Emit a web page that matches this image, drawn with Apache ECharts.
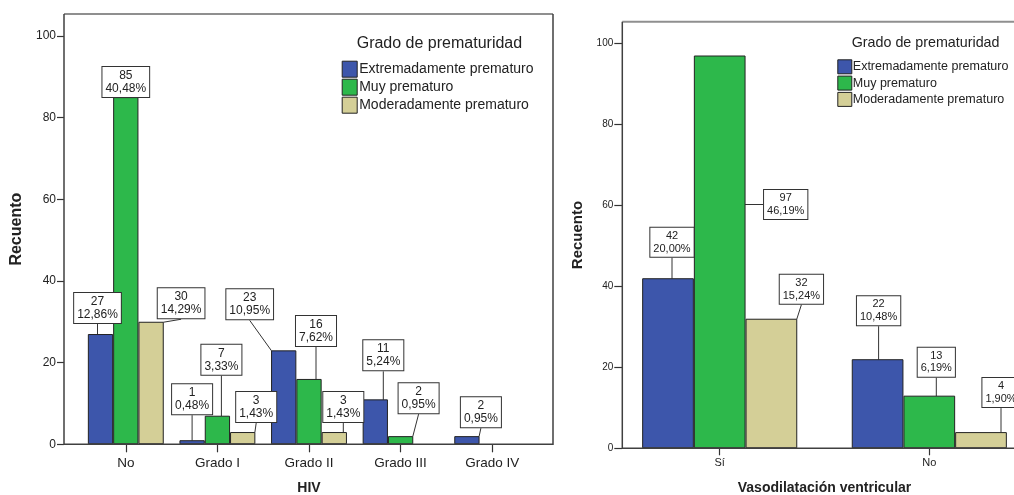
<!DOCTYPE html>
<html>
<head>
<meta charset="utf-8">
<script src="https://cdn.jsdelivr.net/npm/echarts@6/dist/echarts.min.js"></script>
<style>
html,body{margin:0;padding:0;background:#fff;}
#chart{width:1014px;height:495px;}
</style>
</head>
<body>
<div id="chart"></div>
<script>
// ---------- data ----------
const seriesNames = ['Extremadamente prematuro', 'Muy prematuro', 'Moderadamente prematuro'];

const hivCategories = ['No', 'Grado I', 'Grado II', 'Grado III', 'Grado IV'];
const hivExtremo   = [27, 1, 23, 11, 2];
const hivMuy       = [85, 7, 16, 2, null];
const hivModerado  = [30, 3, 3, null, null];
const hivExtremoPct  = ['12,86%', '0,48%', '10,95%', '5,24%', '0,95%'];
const hivMuyPct      = ['40,48%', '3,33%', '7,62%', '0,95%', null];
const hivModeradoPct = ['14,29%', '1,43%', '1,43%', null, null];

const vasoCategories = ['Sí', 'No'];
const vasoExtremo  = [42, 22];
const vasoMuy      = [97, 13];
const vasoModerado = [32, 4];
const vasoExtremoPct  = ['20,00%', '10,48%'];
const vasoMuyPct      = ['46,19%', '6,19%'];
const vasoModeradoPct = ['15,24%', '1,90%'];

const yTicks = [0, 20, 40, 60, 80, 100];

// ---------- styling / layout ----------
const FONT = 'Liberation Sans, Arial, sans-serif';
const colors = ['#3d56ab', '#2db84b', '#d4cf97'];
const TXT = '#222';
const YMAX = 105.35;

// label box nudges: [dx from bar centre, gap between bar top and box bottom]
const labelNudge = [
  [[-3, 11], [0, 26], [-34, 31], [8, 29], [14, 9]],
  [[0, 0], [4, 41], [7, 33], [18, 23], [0, 0]],
  [[30, 3.5], [13.5, 10], [9, 10], [0, 0], [0, 0]],
  [[4, 21.5], [1, 34]],
  [[66, -163.5], [7, 19]],
  [[30, 15], [20, 25]]
];

function makeSeries(idx, axisIdx, data, pct, barW, fs, lh) {
  return {
    type: 'bar',
    name: seriesNames[idx % 3],
    xAxisIndex: axisIdx,
    yAxisIndex: axisIdx,
    data: data,
    barWidth: barW,
    barGap: '0%',
    itemStyle: { color: colors[idx % 3], borderColor: '#222', borderWidth: 1 },
    label: {
      show: true,
      position: 'top',
      distance: 0,
      formatter: p => p.value + '\n' + pct[p.dataIndex],
      fontFamily: FONT,
      fontSize: fs,
      lineHeight: lh,
      color: TXT,
      align: 'center',
      backgroundColor: '#fff',
      borderColor: '#333',
      borderWidth: 1,
      padding: [2, 3, 2, 3]
    },
    labelLine: { show: true, lineStyle: { color: '#333', width: 1 } },
    labelLayout: p => {
      const n = labelNudge[idx][p.dataIndex] || [0, 0];
      return { dx: n[0], dy: -n[1] };
    },
    emphasis: { disabled: true }
  };
}

const chart = echarts.init(document.getElementById('chart'), null, { renderer: 'canvas' });

const option = {
  animation: false,
  backgroundColor: '#fff',
  textStyle: { fontFamily: FONT },
  title: [
    { text: 'Grado de prematuridad', left: 356.7, top: 36, padding: 0,
      textStyle: { fontFamily: FONT, fontSize: 16, fontWeight: 'normal', color: TXT } },
    { text: 'Grado de prematuridad', left: 851.7, top: 36, padding: 0,
      textStyle: { fontFamily: FONT, fontSize: 14.3, fontWeight: 'normal', color: TXT } }
  ],
  legend: [
    { orient: 'vertical', left: 341.7, top: 60.7, padding: 0, itemWidth: 15, itemHeight: 16, itemGap: 1,
      icon: 'rect', selectedMode: false, data: seriesNames,
      itemStyle: { borderColor: '#222', borderWidth: 1 },
      textStyle: { fontFamily: FONT, fontSize: 14, color: TXT, padding: [0, 0, 0, -3] } },
    { orient: 'vertical', left: 837.3, top: 59.3, padding: 0, itemWidth: 14, itemHeight: 14, itemGap: 1.3,
      icon: 'rect', selectedMode: false, data: seriesNames,
      itemStyle: { borderColor: '#222', borderWidth: 1 },
      textStyle: { fontFamily: FONT, fontSize: 12.5, color: TXT, padding: [0, 0, 0, -4] } }
  ],
  grid: [
    { left: 80, right: 476, top: 14, bottom: 50.7, outerBoundsMode: 'none', containLabel: false },
    { left: 614.9, right: -20.1, top: 21.7, bottom: 46.7, outerBoundsMode: 'none', containLabel: false }
  ],
  xAxis: [
    { type: 'category', gridIndex: 0, data: hivCategories,
      axisLine: { show: false },
      axisTick: { show: true, alignWithLabel: true, length: 8, lineStyle: { color: '#333', width: 1.2 } },
      axisLabel: { fontFamily: FONT, fontSize: 13.5, color: TXT, margin: 12 },
      name: 'HIV', nameLocation: 'middle', nameGap: 37,
      nameTextStyle: { fontFamily: FONT, fontSize: 14, fontWeight: 'bold', color: TXT } },
    { type: 'category', gridIndex: 1, data: vasoCategories,
      axisLine: { show: false },
      axisTick: { show: true, alignWithLabel: true, length: 7, lineStyle: { color: '#333', width: 1.2 } },
      axisLabel: { fontFamily: FONT, fontSize: 11, color: TXT, margin: 9 },
      name: 'Vasodilatación ventricular', nameLocation: 'middle', nameGap: 33,
      nameTextStyle: { fontFamily: FONT, fontSize: 14, fontWeight: 'bold', color: TXT } }
  ],
  yAxis: [
    { type: 'value', gridIndex: 0, min: 0, max: YMAX, interval: 20, offset: 16,
      axisLine: { show: false },
      axisTick: { show: true, length: 7, customValues: yTicks, lineStyle: { color: '#333', width: 1.2 } },
      axisLabel: { fontFamily: FONT, fontSize: 12, color: TXT, margin: 8, customValues: yTicks },
      splitLine: { show: false },
      name: 'Recuento', nameLocation: 'middle', nameRotate: 90, nameGap: 39,
      nameTextStyle: { fontFamily: FONT, fontSize: 16, fontWeight: 'bold', color: TXT } },
    { type: 'value', gridIndex: 1, min: 0, max: YMAX, interval: 20, offset: -7.4,
      axisLine: { show: false },
      axisTick: { show: true, length: 8, customValues: yTicks, lineStyle: { color: '#333', width: 1.2 } },
      axisLabel: { fontFamily: FONT, fontSize: 10, color: TXT, margin: 9, customValues: yTicks },
      splitLine: { show: false },
      name: 'Recuento', nameLocation: 'middle', nameRotate: 90, nameGap: 37,
      nameTextStyle: { fontFamily: FONT, fontSize: 15, fontWeight: 'bold', color: TXT } }
  ],
  series: [
    makeSeries(0, 0, hivExtremo, hivExtremoPct, 25.3, 12, 13),
    makeSeries(1, 0, hivMuy, hivMuyPct, 25.3, 12, 13),
    makeSeries(2, 0, hivModerado, hivModeradoPct, 25.3, 12, 13),
    makeSeries(3, 1, vasoExtremo, vasoExtremoPct, 51.7, 11, 12.5),
    makeSeries(4, 1, vasoMuy, vasoMuyPct, 51.7, 11, 12.5),
    makeSeries(5, 1, vasoModerado, vasoModeradoPct, 51.7, 11, 12.5)
  ],
  graphic: [
    { type: 'line', z: 50, silent: true, shape: { x1: 64, y1: 14, x2: 553, y2: 14 },
      style: { stroke: '#8f8f8f', lineWidth: 2 } },
    { type: 'polyline', z: 50, silent: true,
      shape: { points: [[64, 14], [64, 444.3], [553, 444.3], [553, 14]] },
      style: { stroke: '#404040', lineWidth: 1.5, fill: null } },
    { type: 'line', z: 50, silent: true, shape: { x1: 622.3, y1: 21.7, x2: 1020, y2: 21.7 },
      style: { stroke: '#8f8f8f', lineWidth: 2 } },
    { type: 'polyline', z: 50, silent: true,
      shape: { points: [[622.3, 21.7], [622.3, 448.3], [1020, 448.3]] },
      style: { stroke: '#404040', lineWidth: 1.5, fill: null } }
  ]
};

chart.setOption(option);
</script>
</body>
</html>
